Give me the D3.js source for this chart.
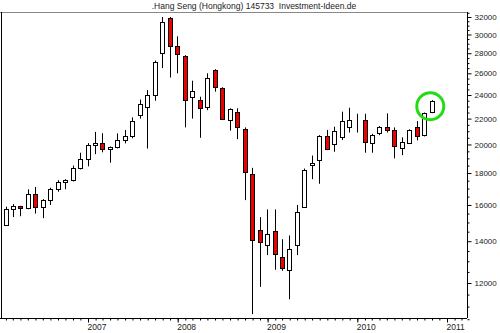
<!DOCTYPE html>
<html>
<head>
<meta charset="utf-8">
<script src="https://cdn.jsdelivr.net/npm/d3@7"></script>
<style>
    body { margin: 0; background: #fff; }
    svg { display: block; }
</style>
</head>
<body>
<svg width="500" height="333"></svg>
<script>
    let title = ".Hang Seng (Hongkong) 145733  Investment-Ideen.de"

    let months = [
        "2006-01", "2006-02", "2006-03", "2006-04", "2006-05", "2006-06", "2006-07", "2006-08", "2006-09", "2006-10", "2006-11", "2006-12",
        "2007-01", "2007-02", "2007-03", "2007-04", "2007-05", "2007-06", "2007-07", "2007-08", "2007-09", "2007-10", "2007-11", "2007-12",
        "2008-01", "2008-02", "2008-03", "2008-04", "2008-05", "2008-06", "2008-07", "2008-08", "2008-09", "2008-10", "2008-11", "2008-12",
        "2009-01", "2009-02", "2009-03", "2009-04", "2009-05", "2009-06", "2009-07", "2009-08", "2009-09", "2009-10", "2009-11", "2009-12",
        "2010-01", "2010-02", "2010-03", "2010-04", "2010-05", "2010-06", "2010-07", "2010-08", "2010-09", "2010-10"
    ]
    let open = [
        14876, 15753, 15918, 15805, 16661, 15857, 16267, 16971, 17392, 17543, 18324, 18960,
        19965, 20106, 19652, 19801, 20319, 20635, 22300, 23000, 24000, 28000, 31850, 28800,
        27700, 23850, 23540, 23000, 26300, 24650, 21880, 22520, 21150, 17930, 14600, 13830,
        14540, 13200, 12580, 13800, 15890, 18550, 18880, 20600, 20000, 20530, 21300, 21950,
        21880, 20080, 20900, 21300, 21100, 19710, 20125, 21300, 20700, 22560
    ]
    let high = [
        15900, 16050, 15950, 16950, 17100, 16350, 17050, 17530, 17600, 18500, 19400, 20100,
        20950, 20850, 19850, 20830, 21100, 22100, 23600, 24440, 27250, 32000, 32000, 29800,
        27800, 25300, 23850, 26000, 26400, 24700, 22850, 22850, 21300, 18350, 15300, 15740,
        15740, 14100, 14300, 16000, 18300, 19200, 20700, 21100, 21350, 22570, 22900, 22400,
        22400, 20800, 21400, 22430, 21300, 20530, 21150, 21800, 22500, 23550
    ]
    let low = [
        14850, 15300, 15350, 15750, 15500, 15240, 16000, 16800, 16960, 17450, 18240, 18450,
        19300, 19430, 18700, 19710, 20080, 20460, 22000, 19700, 23500, 26500, 25600, 26000,
        21300, 22000, 20500, 22700, 24300, 21900, 21050, 20400, 16290, 10700, 11830, 13300,
        12600, 12550, 11300, 13300, 15850, 17600, 17300, 19590, 19470, 20330, 20900, 20900,
        19400, 19400, 20700, 20900, 19000, 19230, 20050, 20300, 20600, 22450
    ]
    let close = [
        15753, 15918, 15805, 16661, 15857, 16267, 16971, 17392, 17543, 18324, 18960, 19965,
        20106, 19652, 19801, 20319, 20635, 21773, 23200, 24000, 27150, 31400, 28750, 27950,
        23540, 24380, 22900, 25600, 24700, 22000, 22760, 21350, 18080, 14050, 13970, 14400,
        13330, 12700, 13580, 15565, 18200, 18650, 20650, 19700, 21000, 21800, 21880, 21980,
        20200, 20700, 21300, 21100, 19880, 20200, 21100, 20600, 22430, 23500
    ]

    let yMajor = [12000, 14000, 16000, 18000, 20000, 22000, 24000, 26000, 28000, 30000, 32000]
    let yMinor = [10500, 11000, 11500, 12500, 13000, 13500, 14500, 15000, 15500, 16500, 17000, 17500,
        18500, 19000, 19500, 20500, 21000, 21500, 22500, 23000, 23500, 24500, 25000, 25500,
        26500, 27000, 27500, 28500, 29000, 29500, 30500, 31000, 31500, 32500]
    let yearTicks = ["2007", "2008", "2009", "2010", "2011"]

    let plot = { left: 1, right: 467, top: 12, bottom: 318 }

    let parseMonth = d3.timeParse("%Y-%m")
    let data = months.map(function (m, i) {
        let d = parseMonth(m)
        // candle sits at the end of its month
        return { date: d3.timeDay.offset(d3.timeMonth.offset(d, 1), -1), o: open[i], h: high[i], l: low[i], c: close[i] }
    })

    let svg = d3.select("svg")

    let x = d3.scaleTime()
        .domain([new Date(2007, 0, 1), new Date(2011, 0, 1)])
        .range([88, 447])

    let y = d3.scaleLog()
        .domain([12000, 32000])
        .range([283, 17])

    // title
    svg.append("text")
        .attr("x", 254)
        .attr("y", 9)
        .attr("text-anchor", "middle")
        .style("white-space", "pre")
        .style("font-family", "Liberation Sans, Arial, sans-serif")
        .style("font-size", "8.5px")
        .style("fill", "#222")
        .text(title)

    // frame
    svg.append("line")
        .attr("x1", 0).attr("x2", plot.right)
        .attr("y1", plot.top + 0.5).attr("y2", plot.top + 0.5)
        .style("stroke", "#888").style("stroke-width", 1)
    svg.append("line")
        .attr("x1", plot.left + 0.5).attr("x2", plot.left + 0.5)
        .attr("y1", plot.top).attr("y2", plot.bottom)
        .style("stroke", "#000").style("stroke-width", 1)

    // x axis: monthly minor ticks + yearly labelled ticks
    let monthTicks = d3.timeMonth.range(new Date(2006, 1, 1), new Date(2011, 3, 1))
    let xMinor = d3.axisBottom(x)
        .tickValues(monthTicks)
        .tickSize(2)
        .tickFormat("")
    svg.append("g")
        .attr("class", "x minor")
        .attr("transform", `translate(0, ${plot.bottom + 0.5})`)
        .call(xMinor)
        .call(g => g.select(".domain").remove())

    let xMajor = d3.axisBottom(x)
        .tickValues(yearTicks.map(function (t) { return new Date(+t, 0, 1) }))
        .tickSize(4)
        .tickPadding(1)
        .tickFormat(d3.timeFormat("%Y"))
    let xAxis = svg.append("g")
        .attr("class", "x axis")
        .attr("transform", `translate(0, ${plot.bottom + 0.5})`)
        .call(xMajor)
    xAxis.select(".domain").attr("d", `M0,0H${plot.right}`)
    xAxis.selectAll("text")
        .attr("text-anchor", "start")
        .attr("x", -1)
        .style("font-family", "Liberation Sans, Arial, sans-serif")
        .style("font-size", "8.5px")
        .style("fill", "#222")

    // y axis on the right
    let yMinorAxis = d3.axisRight(y)
        .tickValues(yMinor)
        .tickSize(2)
        .tickFormat("")
    svg.append("g")
        .attr("class", "y minor")
        .attr("transform", `translate(${plot.right + 0.5}, 0)`)
        .call(yMinorAxis)
        .call(g => g.select(".domain").remove())

    let yMajorAxis = d3.axisRight(y)
        .tickValues(yMajor)
        .tickSize(4)
        .tickPadding(3)
        .tickFormat(d3.format("d"))
    let yAxis = svg.append("g")
        .attr("class", "y axis")
        .attr("transform", `translate(${plot.right + 0.5}, 0)`)
        .call(yMajorAxis)
    yAxis.select(".domain").attr("d", `M0,${plot.top}V${plot.bottom}`)
    yAxis.selectAll("text")
        .style("font-family", "Liberation Sans, Arial, sans-serif")
        .style("font-size", "8px")
        .style("fill", "#222")

    // candles
    let candles = svg.append("g")
        .selectAll("g")
        .data(data)
        .join("g")

    candles.append("line")
        .attr("x1", d => Math.round(x(d.date)) + 0.5)
        .attr("x2", d => Math.round(x(d.date)) + 0.5)
        .attr("y1", d => y(d.h))
        .attr("y2", d => y(d.l))
        .style("stroke", "#000")
        .style("stroke-width", 1)

    candles.append("rect")
        .attr("x", d => Math.round(x(d.date)) - 2 + 0.5)
        .attr("width", 4)
        .attr("y", d => Math.round(y(Math.max(d.o, d.c))) + 0.5)
        .attr("height", d => Math.max(0, Math.round(y(Math.min(d.o, d.c))) - Math.round(y(Math.max(d.o, d.c)))))
        .style("fill", d => d.c < d.o ? "#ee0000" : "#fff")
        .style("stroke", "#000")
        .style("stroke-width", 1)

    // green marker round the latest candle
    let last = data[data.length - 1]
    svg.append("circle")
        .attr("cx", x(last.date) - 1.5)
        .attr("cy", y(Math.sqrt(last.o * last.c)))
        .attr("r", 13.5)
        .style("fill", "none")
        .style("stroke", "#22dd11")
        .style("stroke-width", 3)
</script>
</body>
</html>
